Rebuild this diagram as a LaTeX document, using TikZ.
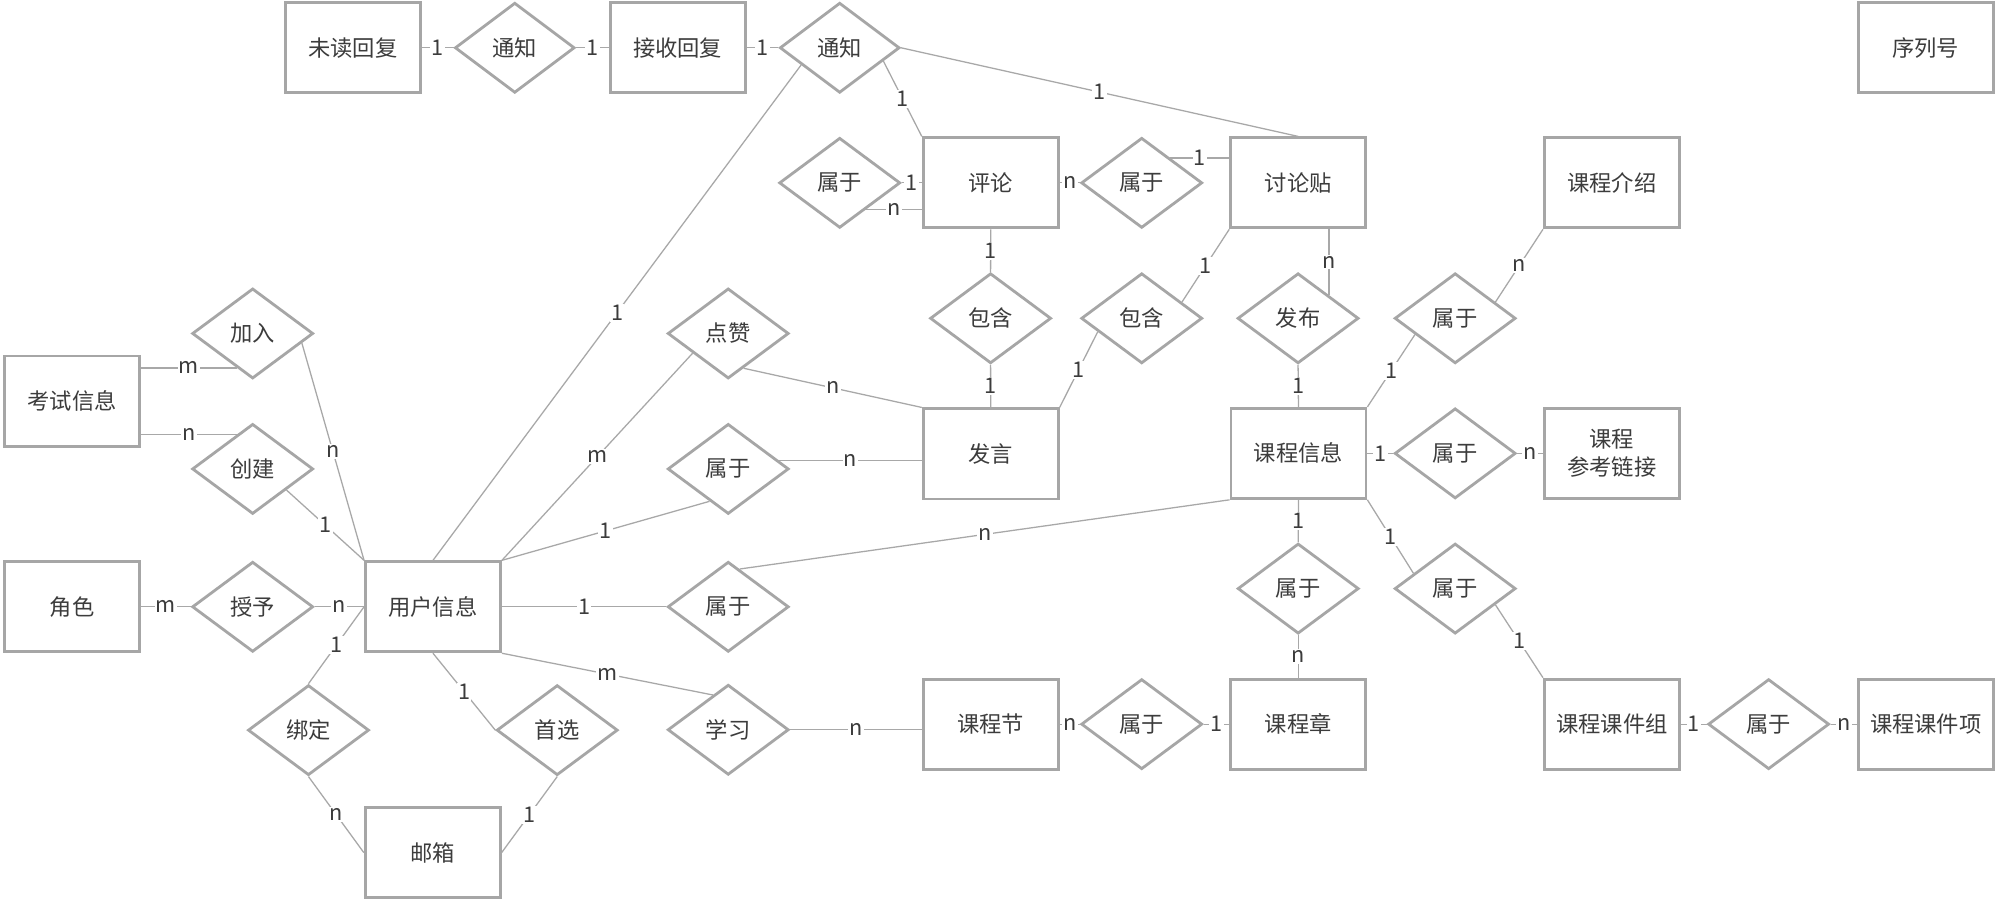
\documentclass[tikz,border=0pt]{standalone}
\usepackage{fontspec}
\usetikzlibrary{shapes.geometric}
\newfontfamily\cjk{Noto Sans CJK SC}
\definecolor{bordc}{HTML}{A6A6A6}
\definecolor{linec}{HTML}{A8A8A8}
\definecolor{txtc}{HTML}{3C3C3C}
\newcommand{\entfont}{\cjk\fontsize{17.5}{22}\selectfont}
\newcommand{\lblfont}{\cjk\fontsize{17}{19}\selectfont}
\tikzset{
  ent/.style={draw=bordc, line width=2.2pt, fill=white, rectangle, minimum width=106pt, minimum height=70.7pt, inner sep=2pt, text=txtc, font=\entfont, align=center},
  rel/.style={draw=bordc, line width=2.2pt, fill=white, diamond, minimum width=95pt, minimum height=70.7pt, inner sep=0pt, text=txtc, font=\entfont},
  conn/.style={draw=linec, line width=1pt},
  lbl/.style={fill=white, inner sep=1pt, text=txtc, font=\lblfont}
}
\begin{document}
\begin{tikzpicture}[x=1pt,y=-1pt]
\useasboundingbox[fill=white] (0,0) rectangle (1568,706.3);
% row 1
\node[ent] (wd) at (277,37.5) {未读回复};
\node[rel,minimum width=94pt] (tz1) at (404,37.5) {通知};
\node[ent] (js) at (531.8,37.5) {接收回复};
\node[rel,minimum width=94pt] (tz2) at (659,37.5) {通知};
\node[ent] (xlh) at (1511.3,37.5) {序列号};
% row 2
\node[rel] (sy1) at (659,143.5) {属于};
\node[ent] (pl) at (777.5,143.5) {评论};
\node[rel] (sy2) at (896,143.5) {属于};
\node[ent] (tl) at (1018.8,143.5) {讨论贴};
\node[ent] (jsh) at (1265,143.5) {课程介绍};
% row 3
\node[rel] (bh1) at (777.4,249.8) {包含};
\node[rel] (bh2) at (896,249.8) {包含};
\node[rel] (fb) at (1018.7,249.8) {发布};
\node[rel] (sy3) at (1142,249.8) {属于};
\node[rel] (jr) at (198.3,261.7) {加入};
\node[rel] (ds) at (571.5,261.7) {点赞};
\node[ent] (ks) at (56.6,314.8) {考试信息};
% row 4
\node[ent] (fy) at (777.5,356.2) {发言};
\node[ent] (kc) at (1019,355.8) {课程信息};
\node[rel] (sy4) at (1142,355.8) {属于};
\node[ent] (ck) at (1265,355.8) {课程\\参考链接};
\node[rel] (cj) at (198.3,368) {创建};
\node[rel] (sy10) at (571.5,368) {属于};
% row 5
\node[ent] (jue) at (56.6,476.2) {角色};
\node[rel] (sz) at (198.3,476.2) {授予};
\node[ent] (yh) at (339.8,476.2) {用户信息};
\node[rel] (sy9) at (571.5,476.2) {属于};
\node[rel] (sy5) at (1018.8,461.9) {属于};
\node[rel] (sy6) at (1142,461.9) {属于};
% row 6
\node[ent] (kj) at (777.5,568.3) {课程节};
\node[rel] (sy8) at (896,568.3) {属于};
\node[ent] (kzh) at (1018.8,568.3) {课程章};
\node[ent] (kzu) at (1265,568.3) {课程课件组};
\node[rel] (sy7) at (1388,568.3) {属于};
\node[ent] (kx) at (1511.3,568.3) {课程课件项};
\node[rel] (bd) at (242.1,573) {绑定};
\node[rel] (sx) at (437.3,573) {首选};
\node[rel] (xx) at (571.5,572.7) {学习};
\node[ent] (yx) at (339.6,669.1) {邮箱};

% connectors
\draw[conn] (wd.east) -- node[lbl]{1} (tz1.west);
\draw[conn] (tz1.east) -- node[lbl]{1} (js.west);
\draw[conn] (js.east) -- node[lbl]{1} (tz2.west);
\draw[conn] (tz2.-17) -- node[lbl]{1} (pl.north west);
\draw[conn] (tz2.east) -- node[lbl]{1} (tl.north);
\draw[conn] (tz2.-156) -- node[lbl]{1} (yh.north);
\draw[conn] (sy1.east) -- node[lbl]{1} (pl.west);
\draw[conn] (sy1.-46) -- node[lbl]{n} (sy1.-46 -| pl.west);
\draw[conn] (pl.east) -- node[lbl]{n} (sy2.west);
\draw[conn] (sy2.41) -- node[lbl]{1} (sy2.41 -| tl.west);
\draw[conn] (pl.south) -- node[lbl]{1} (bh1.north);
\draw[conn] (bh1.south) -- node[lbl]{1} (fy.north);
\draw[conn] (tl.south west) -- node[lbl]{1} (bh2.22);
\draw[conn] (bh2.-163) -- node[lbl]{1} (fy.north east);
\draw[conn] (fb.37 |- tl.south) -- node[lbl]{n} (fb.37);
\draw[conn] (fb.south) -- node[lbl]{1} (kc.north);
\draw[conn] (sy3.22) -- node[lbl]{n} (jsh.south west);
\draw[conn] (sy3.-158) -- node[lbl]{1} (kc.north east);
\draw[conn] (kc.east) -- node[lbl]{1} (sy4.west);
\draw[conn] (sy4.east) -- node[lbl]{n} (ck.west);
\draw[conn] (kc.south) -- node[lbl]{1} (sy5.north);
\draw[conn] (sy5.south) -- node[lbl]{n} (kzh.north);
\draw[conn] (kc.south east) -- node[lbl]{1} (sy6.160);
\draw[conn] (sy6.-22) -- node[lbl]{1} (kzu.north west);
\draw[conn] (kzu.east) -- node[lbl]{1} (sy7.west);
\draw[conn] (sy7.east) -- node[lbl]{n} (kx.west);
\draw[conn] (kj.east) -- node[lbl]{n} (sy8.west);
\draw[conn] (sy8.east) -- node[lbl]{1} (kzh.west);
\draw[conn] (xx.east) -- node[lbl]{n} (xx.east -| kj.west);
\draw[conn] (yh.south east) -- node[lbl]{m} (xx.114);
\draw[conn] (yh.east) -- node[lbl]{1} (sy9.west);
\draw[conn] (sy9.73) -- node[lbl]{n} (kc.south west);
\draw[conn] (yh.north east) -- node[lbl]{m} (ds.-151);
\draw[conn] (ds.-66) -- node[lbl]{n} (fy.north west);
\draw[conn] (yh.north east) -- node[lbl]{1} (sy10.-120);
\draw[conn] (sy10.9) -- node[lbl]{n} (sy10.9 -| fy.west);
\draw[conn] (jr.-115 -| ks.east) -- node[lbl]{m} (jr.-115);
\draw[conn] (cj.115 -| ks.east) -- node[lbl]{n} (cj.115);
\draw[conn] (jr.-11) -- node[lbl]{n} (yh.north west);
\draw[conn] (cj.-32) -- node[lbl]{1} (yh.north west);
\draw[conn] (jue.east) -- node[lbl]{m} (sz.west);
\draw[conn] (sz.east) -- node[lbl]{n} (yh.west);
\draw[conn] (bd.north) -- node[lbl]{1} (yh.west);
\draw[conn] (bd.south) -- node[lbl]{n} (yx.west);
\draw[conn] (yh.south) -- node[lbl]{1} (sx.west);
\draw[conn] (sx.south) -- node[lbl]{1} (yx.east);
\end{tikzpicture}
\end{document}
